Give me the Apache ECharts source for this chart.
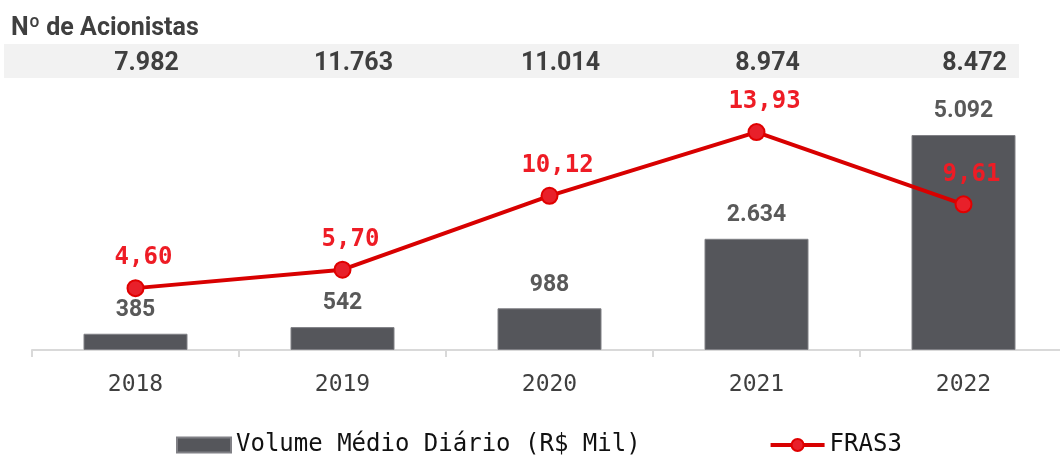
<!DOCTYPE html>
<html>
<head>
<meta charset="utf-8">
<script src="https://cdn.jsdelivr.net/npm/echarts@6/dist/echarts.min.js"></script>
<style>
  html, body { margin: 0; padding: 0; background: #fff; }
  #chart { width: 1060px; height: 462px; }
</style>
</head>
<body>
<div id="chart"></div>
<script>
// dados
const years = ["2018", "2019", "2020", "2021", "2022"];
const acionistas = ["7.982", "11.763", "11.014", "8.974", "8.472"];
const volumeMedio = [385, 542, 988, 2634, 5092];
const fras3 = [4.60, 5.70, 10.12, 13.93, 9.61];

const fmtBr = (v, d) =>
  v.toLocaleString("pt-BR", { minimumFractionDigits: d, maximumFractionDigits: d });

const chart = echarts.init(document.getElementById("chart"));

const option = {
  animation: false,
  title: {
    text: "Nº de Acionistas",
    left: 6,
    top: 11,
    textStyle: {
      fontFamily: "Roboto",
      fontWeight: "bold",
      fontSize: 25,
      color: "#3f3f3f",
    },
  },
  graphic: [
    {
      type: "rect",
      left: 4,
      top: 44,
      shape: { width: 1015, height: 34 },
      style: { fill: "#f2f2f2" },
      z: -1,
    },
  ],
  legend: {
    bottom: 0,
    left: 171,
    itemWidth: 54,
    itemHeight: 15,
    itemGap: 128,
    textStyle: {
      fontFamily: "DejaVu Sans Mono",
      fontSize: 24,
      color: "#111",
    },
    data: [
      { name: "Volume Médio Diário (R$ Mil)", icon: "rect" },
      { name: "FRAS3", lineStyle: { width: 4 } },
    ],
  },
  grid: {
    left: 32,
    top: 100,
    width: 1035,
    height: 250,
    outerBoundsMode: "none",
  },
  xAxis: [
    {
      type: "category",
      data: years,
      axisLine: { lineStyle: { color: "#d9d9d9", width: 2 } },
      axisTick: { show: true, length: 7, lineStyle: { color: "#d9d9d9", width: 2 } },
      axisLabel: {
        margin: 24,
        fontFamily: "DejaVu Sans Mono",
        fontSize: 23,
        color: "#404040",
      },
    },
    {
      type: "category",
      position: "top",
      offset: 24,
      data: acionistas,
      axisLine: { show: false },
      axisTick: { show: false },
      axisLabel: {
        margin: 0,
        padding: [0, 0, 0, 22],
        fontFamily: "Roboto",
        fontWeight: "bold",
        fontSize: 25,
        color: "#3f3f3f",
      },
    },
  ],
  yAxis: [
    { type: "value", min: 0, max: 5921, show: false, splitLine: { show: false } },
    { type: "value", min: 0.9, max: 15.85, show: false, splitLine: { show: false } },
  ],
  series: [
    {
      name: "Volume Médio Diário (R$ Mil)",
      type: "bar",
      data: volumeMedio,
      barWidth: 104,
      itemStyle: { color: "#55565b", borderColor: "#808085", borderWidth: 1 },
      label: {
        show: true,
        position: "top",
        distance: 12,
        formatter: (p) => fmtBr(p.value, 0),
        fontFamily: "Roboto",
        fontWeight: "bold",
        fontSize: 23,
        color: "#595959",
      },
      z: 2,
    },
    {
      name: "FRAS3",
      type: "line",
      yAxisIndex: 1,
      data: fras3,
      symbol: "circle",
      symbolSize: 16,
      lineStyle: { color: "#d80000", width: 4 },
      itemStyle: { color: "#e8202a", borderColor: "#e00000", borderWidth: 2 },
      label: {
        show: true,
        position: "top",
        distance: 9,
        offset: [8, 0],
        formatter: (p) => fmtBr(p.value, 2),
        fontFamily: "DejaVu Sans Mono",
        fontWeight: "bold",
        fontSize: 24,
        color: "#ee1c25",
      },
      z: 3,
    },
  ],
};

chart.setOption(option);
</script>
</body>
</html>
